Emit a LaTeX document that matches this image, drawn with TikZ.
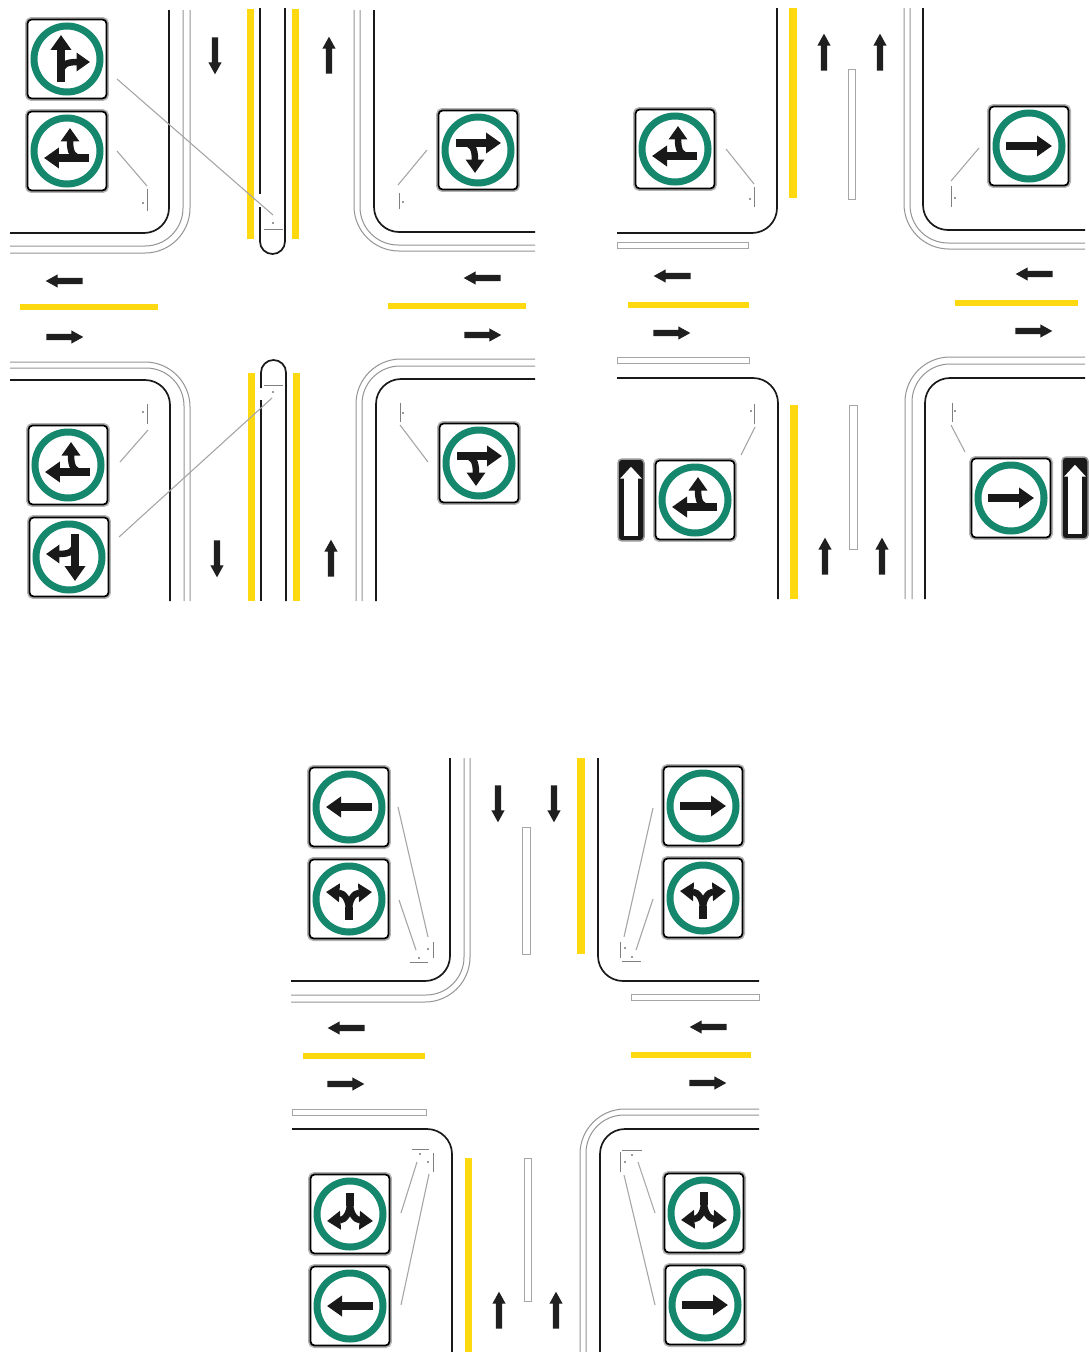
\documentclass[tikz,border=0pt]{standalone}
\usetikzlibrary{arrows.meta, shapes.arrows}
\definecolor{ringgreen}{HTML}{14876C}
\definecolor{lineyellow}{HTML}{FFD90F}

\begin{document}
\begin{tikzpicture}[
	x=0.02cm, y=-0.02cm,
	curb/.style = {draw=black!90, line width=0.034cm, rounded corners=0.5cm},
	inner/.style = {draw=black!42, line width=0.02cm, rounded corners=0.76cm},
	outer/.style = {draw=black!42, line width=0.02cm, rounded corners=0.9cm},
	island/.style = {draw=black!35, fill=white, line width=0.02cm},
	yel/.style = {fill=lineyellow},
	tick/.style = {draw=black!50, line width=0.016cm},
	dot/.style = {fill=black!80},
	leader/.style = {draw=black!35, line width=0.022cm},
	lane/.style = {single arrow, fill=black!88, inner sep=0.055cm, minimum height=0.74cm, single arrow head extend=0.07cm, single arrow tip angle=58},
	sign/.style = {rectangle, draw=black, fill=white, line width=0.035cm, rounded corners=0.08cm, minimum size=1.58cm, inner sep=0pt, preaction={draw=black!30, line width=0.1cm}},
	oneway/.style = {rectangle, draw=black!40, fill=black!90, line width=0.03cm, rounded corners=0.08cm, minimum width=0.52cm, minimum height=1.64cm, inner sep=0pt},
	onearrow/.style = {single arrow, fill=white, inner sep=0.13cm, minimum height=1.38cm, single arrow head extend=0.08cm, single arrow tip angle=85},
	ring/.style = {draw=ringgreen, line width=0.14cm},
	stem/.style = {draw=black!90, line width=0.15cm, -{Triangle[width=0.4cm, length=0.3cm]}},
	arm/.style = {draw=black!90, line width=0.13cm, -{Triangle[width=0.36cm, length=0.27cm]}},
	gleft/.pic = {
		\draw[ring] (0,0) circle[radius=33];
		\draw[stem] (23,0) -- (-23,0);
	},
	gthrough/.pic = {
		\draw[ring] (0,0) circle[radius=33];
		\draw[stem] (-6,23) -- (-6,-24);
		\draw[arm] (-6,14) .. controls (-6,6) and (-1,3) .. (23,3);
	},
	gmerge/.pic = {
		\draw[ring] (0,0) circle[radius=33];
		\draw[stem] (22,7) -- (-23,7);
		\draw[arm] (15,7) .. controls (6,7) and (3,2) .. (3,-23);
	},
	gfork/.pic = {
		\draw[ring] (0,0) circle[radius=33];
		\draw[draw=black!90, line width=0.16cm] (0,21) -- (0,8);
		\draw[arm] (0,11) .. controls (0,1) and (-5,-6) .. (-23,-7);
		\draw[arm] (0,11) .. controls (0,1) and (5,-6) .. (23,-7);
	}
	]
	
	\useasboundingbox (0,0) rectangle (1089,1352);
	
	% ===== ===== ===== ===== =====
	
	% Road lines
	\draw[curb]		(10,233)	-|	(169,10);
	\draw[inner]	(10,246)	-|	(183,10);
	\draw[outer]	(10,253)	-|	(190,10);
	\draw[curb]		(535,232)	-|	(374,10);
	\draw[inner]	(535,245)	-|	(360,10);
	\draw[outer]	(535,251)	-|	(354,10);
	\draw[curb]		(10,380)	-|	(170,601);
	\draw[inner]	(10,368)	-|	(184,601);
	\draw[outer]	(10,362)	-|	(190,601);
	\draw[curb]		(535,379)	-|	(376,601);
	\draw[inner]	(535,366)	-|	(362,601);
	\draw[outer]	(535,359)	-|	(356,601);
	
	% Median
	\draw[curb]		(260,8)		--	(260,194);
	\draw[curb, rounded corners=0.25cm]	(260,207)	|-	(285,254)	--	(285,8);
	\draw[curb]		(261,601)	--	(261,400);
	\draw[curb, rounded corners=0.25cm]	(261,388)	|-	(286,360)	--	(286,601);
	
	% Yellow lines
	\fill[yel]	(247,9)		rectangle	(254,239);
	\fill[yel]	(292,9)		rectangle	(299,239);
	\fill[yel]	(248,373)	rectangle	(255,601);
	\fill[yel]	(293,373)	rectangle	(300,601);
	\fill[yel]	(20,304)	rectangle	(158,310);
	\fill[yel]	(388,303)	rectangle	(526,309);
	
	% Lane arrows
	\node[lane, rotate=-90]	(a11)	at	(215,53)	{};
	\node[lane, rotate=90]	(a12)	at	(329,58)	{};
	\node[lane, rotate=180]	(a13)	at	(67,281)	{};
	\node[lane]				(a14)	at	(62,337)	{};
	\node[lane, rotate=180]	(a15)	at	(485,278)	{};
	\node[lane]				(a16)	at	(480,335)	{};
	\node[lane, rotate=-90]	(a17)	at	(217,556)	{};
	\node[lane, rotate=90]	(a18)	at	(331,561)	{};
	
	% Signs
	\node[sign]	(s11)	at	(67,59)		{};
	\node[sign]	(s12)	at	(67,151)	{};
	\node[sign]	(s13)	at	(478,150)	{};
	\node[sign]	(s14)	at	(68,465)	{};
	\node[sign]	(s15)	at	(69,557)	{};
	\node[sign]	(s16)	at	(479,463)	{};
	\pic				at	(s11)	{gthrough};
	\pic				at	(s12)	{gmerge};
	\pic[rotate=180]	at	(s13)	{gmerge};
	\pic				at	(s14)	{gmerge};
	\pic[rotate=180]	at	(s15)	{gthrough};
	\pic[rotate=180]	at	(s16)	{gmerge};
	
	% Leaders
	\coordinate	(l11a)	at	(117,79);
	\coordinate	(l11b)	at	(273,215);
	\coordinate	(l12a)	at	(117,151);
	\coordinate	(l12b)	at	(147,186);
	\coordinate	(l13a)	at	(427,150);
	\coordinate	(l13b)	at	(398,185);
	\coordinate	(l14a)	at	(120,462);
	\coordinate	(l14b)	at	(148,430);
	\coordinate	(l15a)	at	(119,537);
	\coordinate	(l15b)	at	(272,398);
	\coordinate	(l16a)	at	(428,462);
	\coordinate	(l16b)	at	(400,425);
	\draw[leader]	(l11a)	--	(l11b);
	\draw[leader]	(l12a)	--	(l12b);
	\draw[leader]	(l13a)	--	(l13b);
	\draw[leader]	(l14a)	--	(l14b);
	\draw[leader]	(l15a)	--	(l15b);
	\draw[leader]	(l16a)	--	(l16b);
	
	% Posts
	\draw[tick]	(147,189)	--	(147,211);
	\fill[dot]	(143,203)	circle[radius=0.8];
	\draw[tick]	(264,229)	--	(283,229);
	\fill[dot]	(273,223)	circle[radius=0.8];
	\draw[tick]	(399,193)	--	(399,209);
	\fill[dot]	(403,202)	circle[radius=0.8];
	\draw[tick]	(147,404)	--	(147,424);
	\fill[dot]	(143,412)	circle[radius=0.8];
	\draw[tick]	(264,385)	--	(283,385);
	\fill[dot]	(273,392)	circle[radius=0.8];
	\draw[tick]	(400,403)	--	(400,422);
	\fill[dot]	(403,413)	circle[radius=0.8];
	
	% ===== ===== ===== ===== =====
	
	% Road lines
	\draw[curb]		(617,233)	-|	(777,8);
	\draw[curb]		(1085,230)	-|	(923,8);
	\draw[inner]	(1085,243)	-|	(910,8);
	\draw[outer]	(1085,249)	-|	(904,8);
	\draw[curb]		(617,378)	-|	(778,599);
	\draw[curb]		(1085,378)	-|	(925,599);
	\draw[inner]	(1085,364)	-|	(912,599);
	\draw[outer]	(1085,357)	-|	(905,599);
	
	% Islands
	\draw[island]	(848,69)	rectangle	(855,199);
	\draw[island]	(849,405)	rectangle	(857,549);
	\draw[island]	(617,242)	rectangle	(748,248);
	\draw[island]	(617,357)	rectangle	(749,363);
	
	% Yellow lines
	\fill[yel]	(789,8)		rectangle	(797,198);
	\fill[yel]	(790,405)	rectangle	(798,599);
	\fill[yel]	(628,302)	rectangle	(749,308);
	\fill[yel]	(955,300)	rectangle	(1078,306);
	
	% Lane arrows
	\node[lane, rotate=90]	(a21)	at	(824,55)	{};
	\node[lane, rotate=90]	(a22)	at	(880,55)	{};
	\node[lane, rotate=180]	(a23)	at	(675,276)	{};
	\node[lane]				(a24)	at	(669,333)	{};
	\node[lane, rotate=180]	(a25)	at	(1037,274)	{};
	\node[lane]				(a26)	at	(1031,331)	{};
	\node[lane, rotate=90]	(a27)	at	(825,559)	{};
	\node[lane, rotate=90]	(a28)	at	(882,559)	{};
	
	% Signs
	\node[sign]		(s21)	at	(675,149)	{};
	\node[sign]		(s22)	at	(1029,146)	{};
	\node[sign]		(s23)	at	(695,500)	{};
	\node[sign]		(s24)	at	(1011,498)	{};
	\node[oneway]	(o21)	at	(631,500)	{};
	\node[oneway]	(o22)	at	(1075,498)	{};
	\node[onearrow, rotate=90]	(o21a)	at	(631,505)	{};
	\node[onearrow, rotate=90]	(o22a)	at	(1075,503)	{};
	\pic				at	(s21)	{gmerge};
	\pic[rotate=180]	at	(s22)	{gleft};
	\pic				at	(s23)	{gmerge};
	\pic[rotate=180]	at	(s24)	{gleft};
	
	% Leaders
	\coordinate	(l21a)	at	(726,149);
	\coordinate	(l21b)	at	(754,184);
	\coordinate	(l22a)	at	(979,148);
	\coordinate	(l22b)	at	(951,181);
	\coordinate	(l23a)	at	(741,455);
	\coordinate	(l23b)	at	(755,427);
	\coordinate	(l24a)	at	(965,452);
	\coordinate	(l24b)	at	(951,425);
	\draw[leader]	(l21a)	--	(l21b);
	\draw[leader]	(l22a)	--	(l22b);
	\draw[leader]	(l23a)	--	(l23b);
	\draw[leader]	(l24a)	--	(l24b);
	
	% Posts
	\draw[tick]	(754,187)	--	(754,207);
	\fill[dot]	(750,199)	circle[radius=0.8];
	\draw[tick]	(951,186)	--	(951,207);
	\fill[dot]	(955,198)	circle[radius=0.8];
	\draw[tick]	(754,404)	--	(754,424);
	\fill[dot]	(751,411)	circle[radius=0.8];
	\draw[tick]	(952,403)	--	(952,422);
	\fill[dot]	(955,411)	circle[radius=0.8];
	
	% ===== ===== ===== ===== =====
	
	% Road lines
	\draw[curb]		(291,981)	-|	(450,758);
	\draw[inner]	(291,995)	-|	(464,758);
	\draw[outer]	(291,1002)	-|	(470,758);
	\draw[curb]		(759,981)	-|	(598,758);
	\draw[curb]		(292,1129)	-|	(452,1352);
	\draw[curb]		(759,1129)	-|	(600,1352);
	\draw[inner]	(759,1115)	-|	(586,1352);
	\draw[outer]	(759,1109)	-|	(580,1352);
	
	% Islands
	\draw[island]	(522,827)	rectangle	(530,954);
	\draw[island]	(524,1158)	rectangle	(531,1301);
	\draw[island]	(631,994)	rectangle	(759,1000);
	\draw[island]	(292,1109)	rectangle	(426,1115);
	
	% Yellow lines
	\fill[yel]	(577,758)	rectangle	(585,954);
	\fill[yel]	(465,1158)	rectangle	(472,1352);
	\fill[yel]	(303,1053)	rectangle	(425,1059);
	\fill[yel]	(631,1052)	rectangle	(751,1058);
	
	% Lane arrows
	\node[lane, rotate=-90]	(a31)	at	(498,801)	{};
	\node[lane, rotate=-90]	(a32)	at	(554,801)	{};
	\node[lane, rotate=180]	(a33)	at	(349,1028)	{};
	\node[lane]				(a34)	at	(343,1084)	{};
	\node[lane, rotate=180]	(a35)	at	(711,1027)	{};
	\node[lane]				(a36)	at	(705,1083)	{};
	\node[lane, rotate=90]	(a37)	at	(499,1313)	{};
	\node[lane, rotate=90]	(a38)	at	(556,1313)	{};
	
	% Signs
	\node[sign]	(s31)	at	(349,807)	{};
	\node[sign]	(s32)	at	(349,899)	{};
	\node[sign]	(s33)	at	(703,806)	{};
	\node[sign]	(s34)	at	(703,898)	{};
	\node[sign]	(s35)	at	(350,1214)	{};
	\node[sign]	(s36)	at	(350,1306)	{};
	\node[sign]	(s37)	at	(704,1213)	{};
	\node[sign]	(s38)	at	(705,1305)	{};
	\pic				at	(s31)	{gleft};
	\pic				at	(s32)	{gfork};
	\pic[rotate=180]	at	(s33)	{gleft};
	\pic				at	(s34)	{gfork};
	\pic[rotate=180]	at	(s35)	{gfork};
	\pic				at	(s36)	{gleft};
	\pic[rotate=180]	at	(s37)	{gfork};
	\pic[rotate=180]	at	(s38)	{gleft};
	
	% Leaders
	\coordinate	(l31a)	at	(398,807);
	\coordinate	(l31b)	at	(428,937);
	\coordinate	(l32a)	at	(399,900);
	\coordinate	(l32b)	at	(416,950);
	\coordinate	(l33a)	at	(653,808);
	\coordinate	(l33b)	at	(624,937);
	\coordinate	(l34a)	at	(653,899);
	\coordinate	(l34b)	at	(636,950);
	\coordinate	(l35a)	at	(401,1213);
	\coordinate	(l35b)	at	(417,1162);
	\coordinate	(l36a)	at	(401,1305);
	\coordinate	(l36b)	at	(429,1174);
	\coordinate	(l37a)	at	(655,1213);
	\coordinate	(l37b)	at	(638,1162);
	\coordinate	(l38a)	at	(655,1305);
	\coordinate	(l38b)	at	(624,1175);
	\draw[leader]	(l31a)	--	(l31b);
	\draw[leader]	(l32a)	--	(l32b);
	\draw[leader]	(l33a)	--	(l33b);
	\draw[leader]	(l34a)	--	(l34b);
	\draw[leader]	(l35a)	--	(l35b);
	\draw[leader]	(l36a)	--	(l36b);
	\draw[leader]	(l37a)	--	(l37b);
	\draw[leader]	(l38a)	--	(l38b);
	
	% Posts
	\draw[tick]	(433,942)	--	(433,958);
	\fill[dot]	(428,949)	circle[radius=0.8];
	\draw[tick]	(410,962)	--	(428,962);
	\fill[dot]	(419,958)	circle[radius=0.8];
	\draw[tick]	(620,942)	--	(620,958);
	\fill[dot]	(625,948)	circle[radius=0.8];
	\draw[tick]	(622,961)	--	(641,961);
	\fill[dot]	(632,957)	circle[radius=0.8];
	\draw[tick]	(412,1149)	--	(429,1149);
	\fill[dot]	(420,1154)	circle[radius=0.8];
	\draw[tick]	(433,1153)	--	(433,1172);
	\fill[dot]	(428,1162)	circle[radius=0.8];
	\draw[tick]	(622,1150)	--	(642,1150);
	\fill[dot]	(632,1155)	circle[radius=0.8];
	\draw[tick]	(620,1152)	--	(620,1172);
	\fill[dot]	(625,1162)	circle[radius=0.8];
	
\end{tikzpicture}
\end{document}
